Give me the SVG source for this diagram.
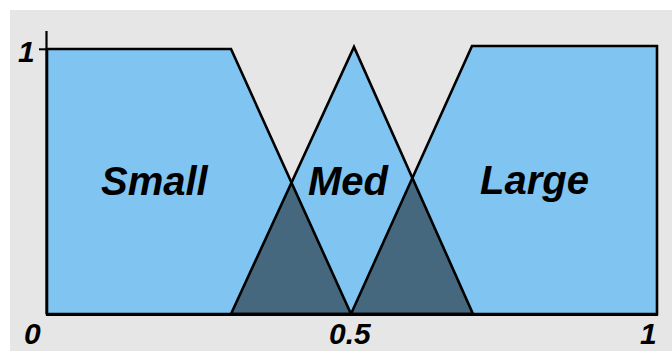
<svg xmlns="http://www.w3.org/2000/svg" width="672" height="351" viewBox="0 0 672 351">
<style>
.fill{fill:#80c4f1;stroke:none}
.dark{fill:#45687f;stroke:none}
.edge{fill:none;stroke:#000;stroke-width:2.6;stroke-linejoin:miter}
.lbl{font-family:"Liberation Sans",Arial,sans-serif;font-weight:bold;font-style:italic;fill:#000}
.big{font-size:40px}
.ax{font-size:30px}
</style>
<rect x="0" y="0" width="672" height="351" fill="#ffffff"/>
<rect x="10" y="10" width="662" height="341" fill="#e6e6e6"/>
<g id="fills">
<polygon class="fill" points="47,49 231,49 351,314 47,314"/>
<polygon class="fill" points="231,314 354,47 473,314"/>
<polygon class="fill" points="351,314 472,46 657,46 657,314"/>
<polygon class="dark" points="231,314 292,183 351,314"/>
<polygon class="dark" points="351,314 412,178 473,314"/>
</g>
<g id="small">
<polygon class="edge" points="47,49 231,49 351,314 47,314"/>
<text class="lbl big" x="101" y="195">Small</text>
</g>
<g id="med">
<polygon class="edge" points="231,314 354,47 473,314"/>
<text class="lbl big" x="308" y="195">Med</text>
</g>
<g id="large">
<polygon class="edge" points="351,314 472,46 657,46 657,314"/>
<text class="lbl big" x="480" y="194">Large</text>
</g>
<g id="axes">
<line x1="46.5" y1="31" x2="46.5" y2="314" stroke="#000" stroke-width="2.2"/>
<line x1="39" y1="49.3" x2="47" y2="49.3" stroke="#000" stroke-width="2"/>
<line x1="46" y1="314.5" x2="658" y2="314.5" stroke="#000" stroke-width="3.2"/>
<text class="lbl ax" x="18" y="62">1</text>
<text class="lbl ax" x="24" y="344">0</text>
<text class="lbl ax" x="329" y="344">0.5</text>
<text class="lbl ax" x="640" y="344">1</text>
</g>
</svg>
